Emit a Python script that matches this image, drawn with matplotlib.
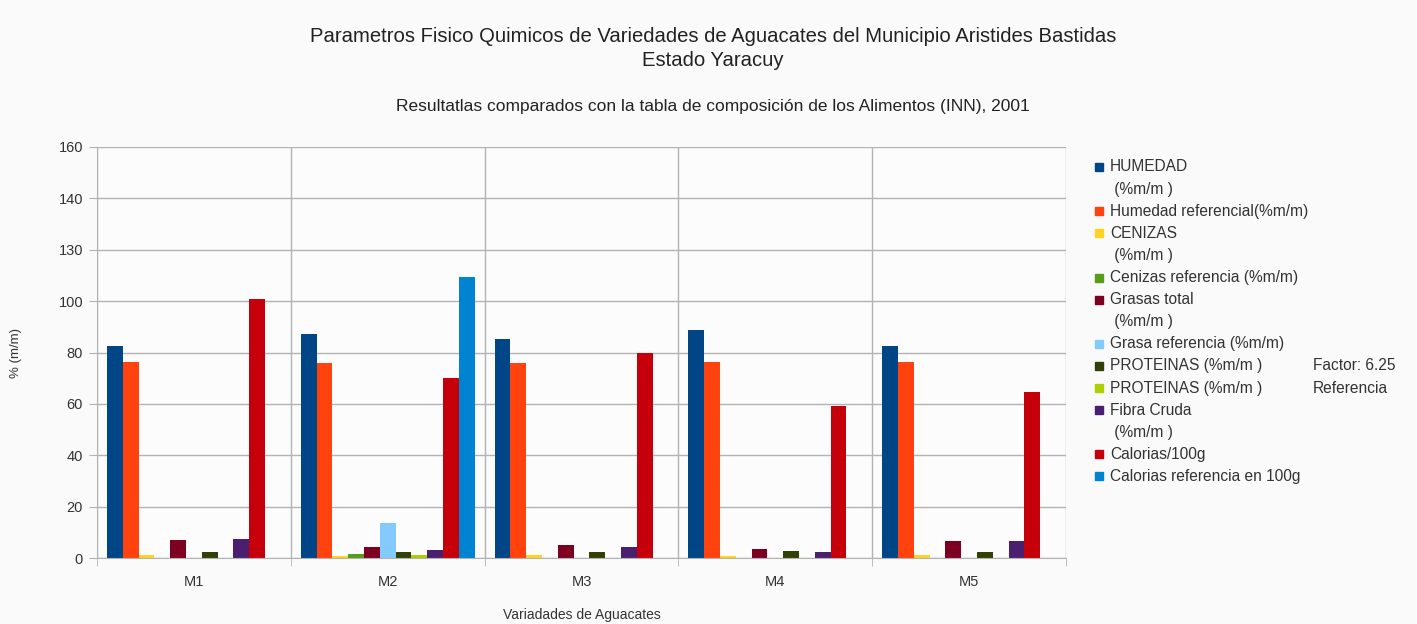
import numpy as np
import matplotlib
matplotlib.use("Agg")
import matplotlib.pyplot as plt
from matplotlib.patches import Rectangle

plt.rcParams['font.family'] = ['Liberation Sans', 'DejaVu Sans']

categories = ["M1", "M2", "M3", "M4", "M5"]

series_names = [
    "HUMEDAD\n (%m/m )",
    "Humedad referencial(%m/m)",
    "CENIZAS\n (%m/m )",
    "Cenizas referencia (%m/m)",
    "Grasas total\n (%m/m )",
    "Grasa referencia (%m/m)",
    "PROTEINAS (%m/m )",
    "PROTEINAS (%m/m )",
    "Fibra Cruda\n (%m/m )",
    "Calorias/100g",
    "Calorias referencia en 100g",
]
series_notes = ["", "", "", "", "", "", "Factor: 6.25", "Referencia", "", "", ""]

humedad = [82.6, 87.1, 85.4, 88.9, 82.4]
humedad_ref = [76.3, 75.8, 76.0, 76.3, 76.3]
cenizas = [1.2, 0.8, 1.2, 0.9, 1.2]
cenizas_ref = [0, 1.6, 0, 0, 0]
grasas = [6.9, 4.2, 5.2, 3.5, 6.5]
grasa_ref = [0, 13.6, 0, 0, 0]
proteinas = [2.3, 2.3, 2.5, 2.9, 2.5]
proteinas_ref = [0, 1.3, 0, 0, 0]
fibra = [7.4, 3.2, 4.2, 2.2, 6.5]
calorias = [100.8, 70.2, 79.8, 59.2, 64.6]
calorias_ref = [0, 109.4, 0, 0, 0]

y_ticks = [0, 20, 40, 60, 80, 100, 120, 140, 160]
y_tick_labels = ["0", "20", "40", "60", "80", "100", "130", "140", "160"]

colors = ["#004586", "#ff420e", "#ffd320", "#579d1c", "#7e0021", "#83caff",
          "#314004", "#aecf00", "#4b1f6f", "#c5000b", "#0084d1"]

data = [humedad, humedad_ref, cenizas, cenizas_ref, grasas, grasa_ref,
        proteinas, proteinas_ref, fibra, calorias, calorias_ref]

W, H = 1417, 624
fig = plt.figure(figsize=(W / 100, H / 100), dpi=100, facecolor="#fafafa")
ax = fig.add_axes([97 / W, 1 - 558 / H, (1066 - 97) / W, (558 - 147) / H])
ax.set_facecolor("#fcfcfc")

x = np.arange(len(categories))
w = 0.0815
for i, vals in enumerate(data):
    ax.bar(x + (i - 5) * w, vals, width=w, color=colors[i], linewidth=0)

grid_c = "#b3b3b3"
ax.set_xlim(-0.5, len(categories) - 0.5)
ax.set_ylim(0, 160)
ax.set_yticks(y_ticks)
ax.set_yticklabels(y_tick_labels, fontsize=10.5, color="#333333")
ax.set_xticks(x)
ax.set_xticklabels(categories, fontsize=10.5, color="#333333")
ax.set_xticks(np.arange(-0.5, len(categories)), minor=True)
ax.tick_params(axis="x", which="major", length=0, pad=12)
ax.tick_params(axis="x", which="minor", length=6, color=grid_c)
ax.tick_params(axis="y", length=6, color=grid_c, pad=4)
ax.grid(axis="y", color=grid_c, linewidth=1)
ax.grid(axis="x", which="minor", color=grid_c, linewidth=1)
ax.set_axisbelow(True)
for s in ["top", "right"]:
    ax.spines[s].set_visible(False)
for s in ["left", "bottom"]:
    ax.spines[s].set_color(grid_c)

ax.set_ylabel("% (m/m)", fontsize=9.5, color="#333333", labelpad=26)
ax.set_xlabel("Variadades de Aguacates", fontsize=10, color="#333333", labelpad=14)

fig.text(713 / W, 1 - 37 / H, "Parametros Fisico Quimicos de Variedades de Aguacates del Municipio Aristides Bastidas",
         ha="center", va="center", fontsize=14.6, color="#222222")
fig.text(713 / W, 1 - 60 / H, "Estado Yaracuy", ha="center", va="center", fontsize=14.6, color="#222222")
fig.text(713 / W, 1 - 106 / H, "Resultatlas comparados con la tabla de composición de los Alimentos (INN), 2001",
         ha="center", va="center", fontsize=12.5, color="#222222")

# manual legend
line_y = 167
step = 22.1
for i, name in enumerate(series_names):
    fig.patches.append(Rectangle((1095 / W, 1 - (line_y + 4) / H), 8 / W, 8 / H,
                                 transform=fig.transFigure, color=colors[i]))
    lines = name.split("\n")
    for j, ln in enumerate(lines):
        fig.text(1110 / W, 1 - (line_y + j * step) / H, ln, ha="left", va="center",
                 fontsize=11.2, color="#333333")
    if series_notes[i]:
        fig.text(1313 / W, 1 - line_y / H, series_notes[i], ha="left", va="center",
                 fontsize=11.2, color="#333333")
    line_y += step * len(lines)

fig.savefig("out.png", dpi=100, facecolor=fig.get_facecolor())
